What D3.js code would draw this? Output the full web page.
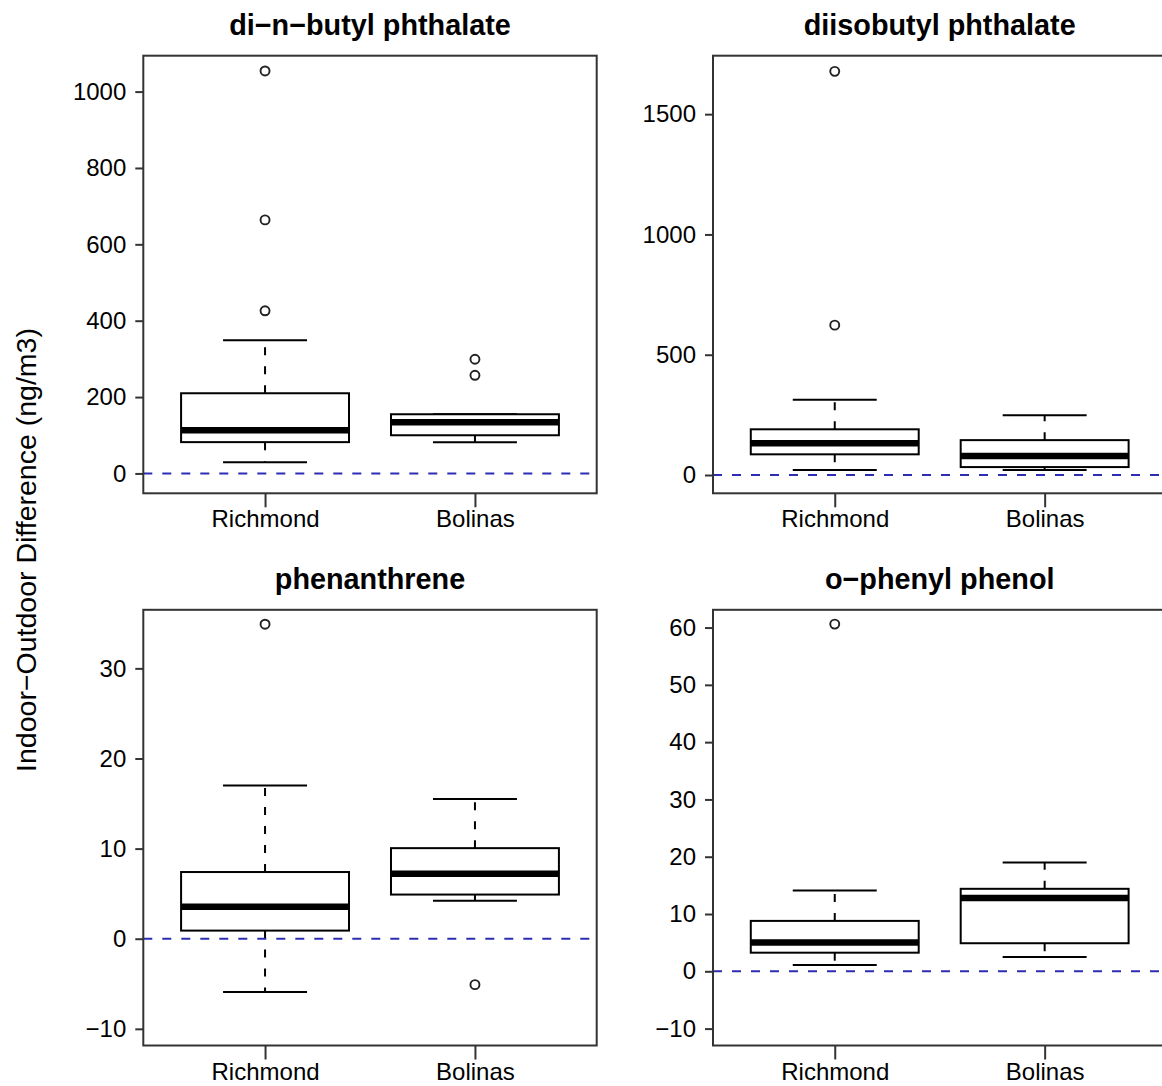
<!DOCTYPE html>
<html>
<head>
<meta charset="utf-8">
<script src="https://cdn.jsdelivr.net/npm/d3@7"></script>
<style>
  html, body { margin: 0; padding: 0; background: #fff; }
  svg { display: block; }
  text { font-family: "Liberation Sans", Arial, Helvetica, sans-serif; fill: #000; }
</style>
</head>
<body>
<div id="chart"></div>
<script>
// ---------- data ----------
const categories = ["Richmond", "Bolinas"];
const panelTitles = ["di\u2212n\u2212butyl phthalate", "diisobutyl phthalate", "phenanthrene", "o\u2212phenyl phenol"];
const yAxisTitle = "Indoor\u2212Outdoor Difference (ng/m3)";

// box stats: [lower whisker, Q1, median, Q3, upper whisker]
const dnbpRichmond = [29, 82, 113, 210, 349];
const dnbpBolinas = [82, 100, 134, 155, 155];
const dnbpRichmondOut = [426, 664, 1054];
const dnbpBolinasOut = [257, 299];
const dnbpTicks = [0, 200, 400, 600, 800, 1000];
const dnbpRange = [-52, 1094];

const dibpRichmond = [21, 86, 132, 190, 313];
const dibpBolinas = [21, 33, 79, 145, 248];
const dibpRichmondOut = [623, 1678];
const dibpBolinasOut = [];
const dibpTicks = [0, 500, 1000, 1500];
const dibpRange = [-76, 1743];

const phenRichmond = [-5.9, 0.9, 3.55, 7.4, 17.0];
const phenBolinas = [4.2, 4.9, 7.2, 10.05, 15.5];
const phenRichmondOut = [34.9];
const phenBolinasOut = [-5.1];
const phenTicks = [-10, 0, 10, 20, 30];
const phenRange = [-11.85, 36.5];

const oppRichmond = [1.1, 3.25, 5.05, 8.8, 14.1];
const oppBolinas = [2.5, 4.9, 12.8, 14.4, 19.0];
const oppRichmondOut = [60.6];
const oppBolinasOut = [];
const oppTicks = [-10, 0, 10, 20, 30, 40, 50, 60];
const oppRange = [-12.95, 63.1];

const refLine = 0;

// ---------- layout ----------
const W = 1162, H = 1086;
const colLeft = [143.3, 713];
const rowTop = [55.7, 609.8];
const rowBottom = [493.3, 1045.5];
const pw = 453.4;

const panels = [
  { title: panelTitles[0], stats: [dnbpRichmond, dnbpBolinas], out: [dnbpRichmondOut, dnbpBolinasOut], range: dnbpRange, ticks: dnbpTicks, col: 0, row: 0 },
  { title: panelTitles[1], stats: [dibpRichmond, dibpBolinas], out: [dibpRichmondOut, dibpBolinasOut], range: dibpRange, ticks: dibpTicks, col: 1, row: 0 },
  { title: panelTitles[2], stats: [phenRichmond, phenBolinas], out: [phenRichmondOut, phenBolinasOut], range: phenRange, ticks: phenTicks, col: 0, row: 1 },
  { title: panelTitles[3], stats: [oppRichmond, oppBolinas], out: [oppRichmondOut, oppBolinasOut], range: oppRange, ticks: oppTicks, col: 1, row: 1 }
];

const svg = d3.select("#chart").append("svg")
  .attr("width", W).attr("height", H)
  .attr("viewBox", `0 0 ${W} ${H}`);

svg.append("rect").attr("width", W).attr("height", H).attr("fill", "#fff");

// y axis title
svg.append("text")
  .attr("transform", `translate(36,550) rotate(-90)`)
  .attr("text-anchor", "middle")
  .style("font-size", "28.5px")
  .text(yAxisTitle);

panels.forEach(p => {
  const x0 = colLeft[p.col], y0 = rowTop[p.row], y1 = rowBottom[p.row];
  const x = d3.scaleLinear().domain([0.42, 2.58]).range([x0, x0 + pw]);
  const y = d3.scaleLinear().domain(p.range).range([y1, y0]);
  const g = svg.append("g");

  // title
  g.append("text")
    .attr("x", x0 + pw / 2).attr("y", y0 - 20.7)
    .attr("text-anchor", "middle")
    .style("font-size", "28.8px").style("font-weight", "bold")
    .text(p.title);

  // y axis
  const ya = g.append("g").attr("transform", `translate(${x0},0)`)
    .call(d3.axisLeft(y).tickValues(p.ticks).tickSize(8).tickPadding(9).tickFormat(d3.format("d")));
  ya.select(".domain").remove();
  ya.selectAll(".tick line").attr("stroke", "#333").attr("stroke-width", 2);
  ya.selectAll(".tick text").style("font-size", "24px").style("font-family", '"Liberation Sans", Arial, sans-serif').attr("fill", "#000");

  // x axis
  const xa = g.append("g").attr("transform", `translate(0,${y1})`)
    .call(d3.axisBottom(x).tickValues([1, 2]).tickSize(14).tickPadding(3).tickFormat(d => categories[d - 1]));
  xa.select(".domain").remove();
  xa.selectAll(".tick line").attr("stroke", "#333").attr("stroke-width", 2);
  xa.selectAll(".tick text").style("font-size", "24px").style("font-family", '"Liberation Sans", Arial, sans-serif').attr("fill", "#000");

  const clipId = `clip${p.col}${p.row}`;
  g.append("clipPath").attr("id", clipId).append("rect")
    .attr("x", x0).attr("y", y0).attr("width", pw).attr("height", y1 - y0);
  const plot = g.append("g").attr("clip-path", `url(#${clipId})`);

  p.stats.forEach((s, i) => {
    const cx = i + 1;
    const bw = 0.4, cw = 0.2;
    // whiskers (dashed)
    plot.append("line")
      .attr("x1", x(cx)).attr("x2", x(cx)).attr("y1", y(s[3])).attr("y2", y(s[4]))
      .attr("stroke", "#000").attr("stroke-width", 2).attr("stroke-dasharray", "8,11");
    plot.append("line")
      .attr("x1", x(cx)).attr("x2", x(cx)).attr("y1", y(s[1])).attr("y2", y(s[0]))
      .attr("stroke", "#000").attr("stroke-width", 2).attr("stroke-dasharray", "8,11");
    // caps
    [s[0], s[4]].forEach(v => {
      plot.append("line")
        .attr("x1", x(cx - cw)).attr("x2", x(cx + cw)).attr("y1", y(v)).attr("y2", y(v))
        .attr("stroke", "#000").attr("stroke-width", 2);
    });
    // box
    plot.append("rect")
      .attr("x", x(cx - bw)).attr("width", x(cx + bw) - x(cx - bw))
      .attr("y", y(s[3])).attr("height", y(s[1]) - y(s[3]))
      .attr("fill", "#fff").attr("stroke", "#000").attr("stroke-width", 2);
    // median
    plot.append("line")
      .attr("x1", x(cx - bw)).attr("x2", x(cx + bw)).attr("y1", y(s[2])).attr("y2", y(s[2]))
      .attr("stroke", "#000").attr("stroke-width", 6.5);
    // outliers
    p.out[i].forEach(v => {
      plot.append("circle").attr("cx", x(cx)).attr("cy", y(v)).attr("r", 4.5)
        .attr("fill", "none").attr("stroke", "#222").attr("stroke-width", 1.9);
    });
  });

  // reference line
  plot.append("line")
    .attr("x1", x0).attr("x2", x0 + pw).attr("y1", y(refLine)).attr("y2", y(refLine))
    .attr("stroke", "#2c2cb4").attr("stroke-width", 2).attr("stroke-dasharray", "9,10");

  // frame
  g.append("rect").attr("x", x0).attr("y", y0).attr("width", pw).attr("height", y1 - y0)
    .attr("fill", "none").attr("stroke", "#333").attr("stroke-width", 2);
});
</script>
</body>
</html>
